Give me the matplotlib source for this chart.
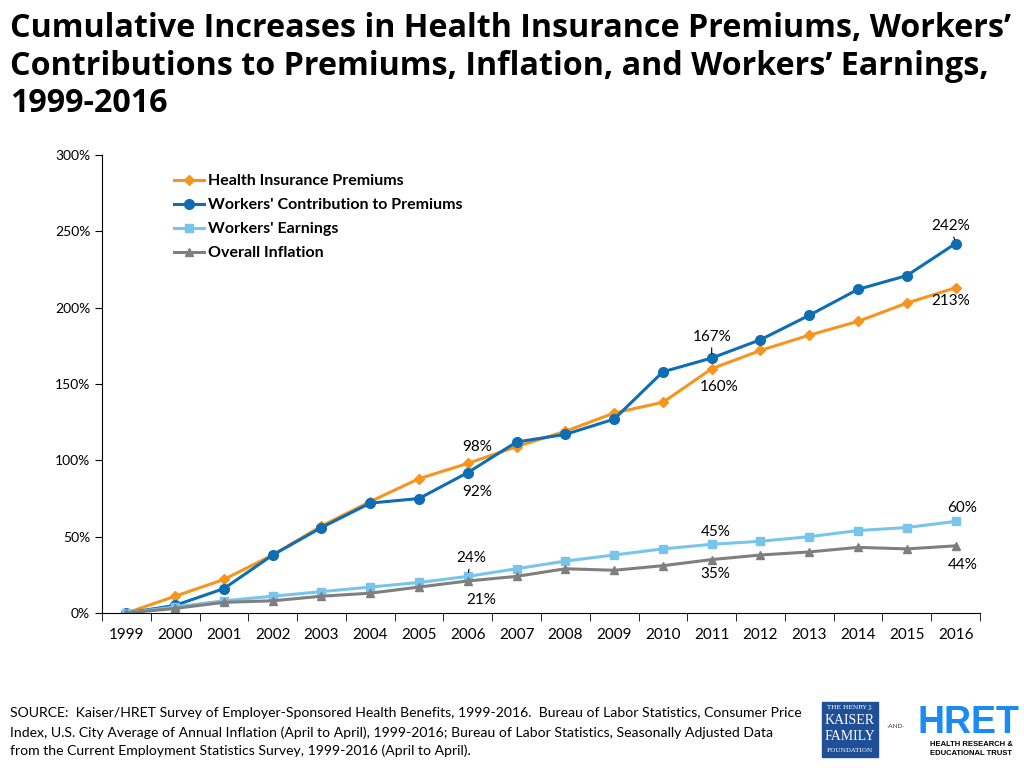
import numpy as np
import matplotlib.pyplot as plt
from matplotlib.patches import Rectangle

years = ['1999', '2000', '2001', '2002', '2003', '2004', '2005', '2006', '2007',
         '2008', '2009', '2010', '2011', '2012', '2013', '2014', '2015', '2016']
premiums = [0, 11, 22, 38, 57, 73, 88, 98, 109, 119, 131, 138, 160, 172, 182, 191, 203, 213]
contribution = [0, 5, 16, 38, 56, 72, 75, 92, 112, 117, 127, 158, 167, 179, 195, 212, 221, 242]
earnings = [0, 4, 8, 11, 14, 17, 20, 24, 29, 34, 38, 42, 45, 47, 50, 54, 56, 60]
inflation = [0, 3, 7, 8, 11, 13, 17, 21, 24, 29, 28, 31, 35, 38, 40, 43, 42, 44]

title_lines = ["Cumulative Increases in Health Insurance Premiums, Workers\u2019",
               "Contributions to Premiums, Inflation, and Workers\u2019 Earnings,",
               "1999-2016"]
source_lines = ["SOURCE:  Kaiser/HRET Survey of Employer-Sponsored Health Benefits, 1999-2016.  Bureau of Labor Statistics, Consumer Price",
                "Index, U.S. City Average of Annual Inflation (April to April), 1999-2016; Bureau of Labor Statistics, Seasonally Adjusted Data",
                "from the Current Employment Statistics Survey, 1999-2016 (April to April)."]

plt.rcParams['font.family'] = ['Lato', 'DejaVu Sans']

fig = plt.figure(figsize=(10.24, 7.68), dpi=100)
ax = fig.add_axes([0.0996, 0.2018, 0.8574, 0.5964])
x = np.arange(len(years))

c_prem = '#F7941D'
c_contr = '#0F6DB3'
c_earn = '#79C4EA'
c_infl = '#7F7F7F'

ax.plot(x, premiums, color=c_prem, lw=2.2, marker='D', ms=5, label='Health Insurance Premiums')
ax.plot(x, contribution, color=c_contr, lw=2.2, marker='o', ms=7, label="Workers' Contribution to Premiums")
ax.plot(x, earnings, color=c_earn, lw=2.2, marker='s', ms=6, label="Workers' Earnings")
ax.plot(x, inflation, color=c_infl, lw=2.2, marker='^', ms=6, label='Overall Inflation')

ax.set_xlim(-0.5, len(years) - 0.5)
ax.set_ylim(0, 300)
ax.set_yticks(np.arange(0, 301, 50))
ax.set_yticklabels([f'{v}%' for v in range(0, 301, 50)], fontsize=10)
ax.set_xticks(x)
ax.set_xticklabels(years, fontsize=11)
ax.tick_params(axis='x', length=0, pad=11)
ax.set_xticks(np.arange(-0.5, len(years), 1), minor=True)
ax.tick_params(axis='x', which='minor', length=6, direction='out')
ax.tick_params(axis='y', length=5, direction='out')
for s in ['top', 'right']:
    ax.spines[s].set_visible(False)

ax.legend(loc='upper left', bbox_to_anchor=(0.066, 0.99), frameon=False,
          prop={'weight': 'bold', 'size': 11.5}, handlelength=1.85,
          handletextpad=0.25, labelspacing=0.62)

# data labels: (index, value, text, dx, dy, leader line)
def lab(i, v, txt, dx, dy, line=False):
    if line:
        ax.annotate(txt, xy=(i, v), xytext=(i + dx, v + dy), ha='center', va='center',
                    fontsize=11, arrowprops=dict(arrowstyle='-', color='black', lw=0.8,
                                                 shrinkA=1, shrinkB=3))
    else:
        ax.text(i + dx, v + dy, txt, ha='center', va='center', fontsize=11)

lab(7, premiums[7], '98%', 0.2, 10.7)
lab(7, contribution[7], '92%', 0.2, -12.5)
lab(7, earnings[7], '24%', 0.06, 12, line=True)
lab(7, inflation[7], '21%', 0.27, -12.5)
lab(12, contribution[12], '167%', 0.0, 14, line=True)
lab(12, premiums[12], '160%', 0.16, -12)
lab(12, earnings[12], '45%', 0.08, 8)
lab(12, inflation[12], '35%', 0.08, -9.5)
lab(17, contribution[17], '242%', -0.1, 11.5, line=True)
lab(17, premiums[17], '213%', -0.1, -8.7)
lab(17, earnings[17], '60%', 0.14, 8.8)
lab(17, inflation[17], '44%', 0.14, -12.6)

for t, yb in zip(title_lines, [37, 75, 112]):
    fig.text(0.01, 1 - yb / 768, t, fontsize=23.2, fontweight='bold', va='baseline',
             ha='left', family=['Open Sans', 'DejaVu Sans'])

for t, yb in zip(source_lines, [717, 737, 755]):
    fig.text(0.01, 1 - yb / 768, t, fontsize=10.1, va='baseline', ha='left')

# logos
fig.patches.append(Rectangle((822 / 1024, 1 - 757 / 768), 56 / 1024, 55 / 768,
                             transform=fig.transFigure, color='#1F4F96', zorder=1))
fig.text(850 / 1024, 1 - 708 / 768, 'THE HENRY J.', color='white', fontsize=4.5, ha='center', va='center', family='DejaVu Serif')
fig.text(850 / 1024, 1 - 721 / 768, 'KAISER', color='white', fontsize=10, ha='center', va='center', family='Liberation Serif')
fig.text(850 / 1024, 1 - 737 / 768, 'FAMILY', color='white', fontsize=10, ha='center', va='center', family='Liberation Serif')
fig.text(850 / 1024, 1 - 751 / 768, 'FOUNDATION', color='white', fontsize=4.5, ha='center', va='center', family='DejaVu Serif')
fig.text(896 / 1024, 1 - 727 / 768, '-AND-', color='#333333', fontsize=4.5, ha='center', va='center')
fig.text(968 / 1024, 1 - 723 / 768, 'HRET', color='#1A8BF0', fontsize=27, fontweight='bold', ha='center', va='center', family='Liberation Sans')
fig.text(930 / 1024, 1 - 749 / 768, 'HEALTH RESEARCH &\nEDUCATIONAL TRUST', color='black', fontsize=5.5,
         fontweight='bold', ha='left', va='center', family='Liberation Sans', linespacing=1.4)

fig.savefig('out.png', dpi=100)
